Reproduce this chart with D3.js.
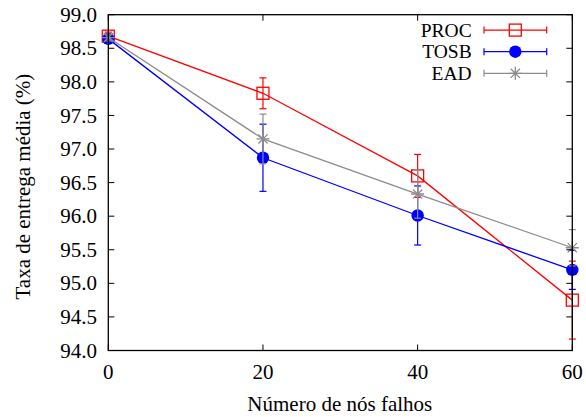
<!DOCTYPE html>
<html><head><meta charset="utf-8">
<script src="https://cdn.jsdelivr.net/npm/d3@7"></script>
<style>body{margin:0;background:#fff}svg{display:block}</style>
</head><body><svg id="c" width="586" height="417" font-family="'Liberation Serif', 'Times New Roman', Times, 'DejaVu Serif', serif"></svg>
<script>
const xValues = [0, 20, 40, 60];
const procValues = [98.68, 97.83, 96.60, 94.75];
const procErrors = [0.06, 0.23, 0.32, 0.58];
const tosbValues = [98.64, 96.87, 96.01, 95.20];
const tosbErrors = [0.05, 0.50, 0.44, 0.29];
const eadValues = [98.66, 97.15, 96.33, 95.53];
const eadErrors = [0.05, 0.37, 0.36, 0.27];
const seriesNames = ["PROC", "TOSB", "EAD"];
const xTicks = [0, 20, 40, 60];
const yTicks = [94.0, 94.5, 95.0, 95.5, 96.0, 96.5, 97.0, 97.5, 98.0, 98.5, 99.0];

const series = [
  {name: seriesNames[0], vals: procValues, errs: procErrors, color: "#ff0000", marker: "square"},
  {name: seriesNames[1], vals: tosbValues, errs: tosbErrors, color: "#0000ff", marker: "circle"},
  {name: seriesNames[2], vals: eadValues, errs: eadErrors, color: "#8c8c8c", marker: "star"}
];

const svg = d3.select("#c");
const L = 108.3, R = 572.3, T = 14.7, B = 350.5;
const x = d3.scaleLinear().domain([0, 60]).range([L, R]);
const y = d3.scaleLinear().domain([94, 99]).range([B, T]);
const FS = 21;

function drawMarker(g, type, cx, cy, color) {
  if (type === "square") {
    g.append("rect").attr("x", cx - 6).attr("y", cy - 6).attr("width", 12).attr("height", 12)
      .attr("fill", "none").attr("stroke", color).attr("stroke-width", 1.3);
  } else if (type === "circle") {
    g.append("circle").attr("cx", cx).attr("cy", cy).attr("r", 6.2).attr("fill", color);
  } else {
    const s = 6.5, d = 4.6;
    const p = `M${cx - s},${cy}L${cx + s},${cy}M${cx},${cy - s}L${cx},${cy + s}M${cx - d},${cy - d}L${cx + d},${cy + d}M${cx - d},${cy + d}L${cx + d},${cy - d}`;
    g.append("path").attr("d", p).attr("stroke", color).attr("stroke-width", 1.3).attr("fill", "none");
  }
}

// Data
series.forEach(s => {
  const g = svg.append("g");
  const line = d3.line().x((d, i) => x(xValues[i])).y(d => y(d));
  g.append("path").attr("d", line(s.vals)).attr("fill", "none").attr("stroke", s.color).attr("stroke-width", 1.3);
  s.vals.forEach((v, i) => {
    const cx = x(xValues[i]);
    const y1 = y(v + s.errs[i]), y2 = y(v - s.errs[i]);
    g.append("line").attr("x1", cx).attr("x2", cx).attr("y1", y1).attr("y2", y2).attr("stroke", s.color).attr("stroke-width", 1.2);
    [y1, y2].forEach(yy => g.append("line").attr("x1", cx - 3.5).attr("x2", cx + 3.5).attr("y1", yy).attr("y2", yy).attr("stroke", s.color).attr("stroke-width", 1.2));
    drawMarker(g, s.marker, cx, y(v), s.color);
  });
});

// Axes with inside ticks (mirrored)
const tl = 6;
const ax = svg.append("g");
yTicks.forEach(t => {
  const yy = y(t);
  ax.append("line").attr("x1", L).attr("x2", L + tl).attr("y1", yy).attr("y2", yy).attr("stroke", "#000");
  ax.append("line").attr("x1", R).attr("x2", R - tl).attr("y1", yy).attr("y2", yy).attr("stroke", "#000");
  ax.append("text").attr("x", 97).attr("y", yy).attr("dy", "0.34em").attr("text-anchor", "end")
    .attr("font-size", FS).text(d3.format(".1f")(t));
});
xTicks.forEach(t => {
  const xx = x(t);
  ax.append("line").attr("x1", xx).attr("x2", xx).attr("y1", B).attr("y2", B - tl).attr("stroke", "#000");
  ax.append("line").attr("x1", xx).attr("x2", xx).attr("y1", T).attr("y2", T + tl).attr("stroke", "#000");
  ax.append("text").attr("x", xx).attr("y", 379).attr("text-anchor", "middle").attr("font-size", FS).text(t);
});
ax.append("rect").attr("x", L).attr("y", T).attr("width", R - L).attr("height", B - T)
  .attr("fill", "none").attr("stroke", "#000").attr("stroke-width", 1.3);

// Axis titles
svg.append("text").attr("x", (L + R) / 2 - 0.5).attr("y", 411).attr("text-anchor", "middle").attr("font-size", FS).text("Número de nós falhos");
svg.append("text").attr("transform", `translate(30,${(T + B) / 2 + 4}) rotate(-90)`).attr("text-anchor", "middle").attr("font-size", FS).text("Taxa de entrega média (%)");

// Legend
const LFS = 19.5, LSP = 21.6;
series.forEach((s, i) => {
  const cy = 51.7 + (i - 1) * LSP;
  const g = svg.append("g");
  g.append("text").attr("x", 471.7).attr("y", cy).attr("dy", "0.34em").attr("text-anchor", "end").attr("font-size", LFS).text(s.name);
  g.append("line").attr("x1", 484).attr("x2", 546.7).attr("y1", cy).attr("y2", cy).attr("stroke", s.color).attr("stroke-width", 1.3);
  [484, 546.7].forEach(xx => g.append("line").attr("x1", xx).attr("x2", xx).attr("y1", cy - 3.5).attr("y2", cy + 3.5).attr("stroke", s.color).attr("stroke-width", 1.2));
  drawMarker(g, s.marker, 515.3, cy, s.color);
});
</script></body></html>
